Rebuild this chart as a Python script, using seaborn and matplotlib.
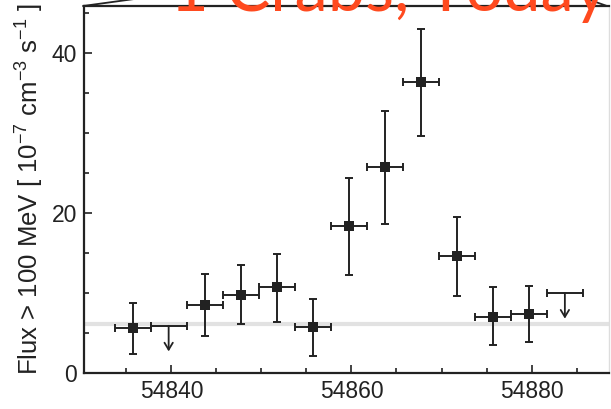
import matplotlib
matplotlib.use("Agg")
import matplotlib.pyplot as plt
from matplotlib.lines import Line2D
from matplotlib.ticker import MultipleLocator
import numpy as np
import pandas as pd
import seaborn as sns

# Light curve (MJD bin centres), flux > 100 MeV in units of 1e-7
mjd = [54835.7, 54843.7, 54847.7, 54851.7, 54855.7, 54859.7,
       54863.7, 54867.7, 54871.7, 54875.7, 54879.7]
flux = [5.6, 8.5, 9.8, 10.7, 5.7, 18.4, 25.8, 36.4, 14.6, 7.05, 7.4]
flux_lo = [2.4, 4.6, 6.1, 6.4, 2.1, 12.3, 18.6, 29.7, 9.6, 3.5, 3.9]
flux_hi = [8.7, 12.4, 13.5, 14.9, 9.25, 24.4, 32.8, 43.0, 19.5, 10.7, 10.9]
bin_half = 2.0

# Upper limits
ul_mjd = [54839.7, 54883.7]
ul_flux = [5.9, 10.0]

# Reference flux level
ref_level = 6.1

x_ticks = [54840, 54860, 54880]
y_ticks = [0, 20, 40]

df = pd.DataFrame({"mjd": mjd, "flux": flux})

sns.set_style("ticks")
plt.rcParams["font.family"] = ["Liberation Sans", "DejaVu Sans"]
plt.rcParams["mathtext.fontset"] = "custom"
plt.rcParams["mathtext.rm"] = "Liberation Sans"
plt.rcParams["mathtext.it"] = "Liberation Sans"

W, H = 611, 409
fig = plt.figure(figsize=(W / 100, H / 100), dpi=100)
ax = fig.add_axes([84 / W, (H - 373) / H, (609 - 84) / W, (373 - 6) / H])

ink = "#222222"

ax.axhline(ref_level, color="#e2e2e2", lw=3.0, zorder=1)

yerr = np.array([np.array(flux) - np.array(flux_lo), np.array(flux_hi) - np.array(flux)])
ax.errorbar(mjd, flux, yerr=yerr, xerr=bin_half, fmt="none", ecolor=ink,
            elinewidth=1.4, capsize=3, capthick=1.4, zorder=3)
sns.scatterplot(data=df, x="mjd", y="flux", marker="s", s=50, color=ink,
                edgecolor=ink, linewidth=0, ax=ax, zorder=4)

# Upper limits: horizontal bin bar with a downward arrow
ax.errorbar(ul_mjd, ul_flux, xerr=bin_half, fmt="none", ecolor=ink,
            elinewidth=1.4, capsize=3, capthick=1.4, zorder=3)
for xu, yu in zip(ul_mjd, ul_flux):
    ax.annotate("", xy=(xu, yu - 3.2), xytext=(xu, yu),
                arrowprops=dict(arrowstyle="->,head_length=0.5,head_width=0.3",
                                color=ink, lw=1.3, shrinkA=0, shrinkB=0))

ax.set_xlim(54830.3, 54888.6)
ax.set_ylim(0, 45.9)
ax.set_xticks(x_ticks)
ax.set_yticks(y_ticks)
ax.xaxis.set_minor_locator(MultipleLocator(5))
ax.yaxis.set_minor_locator(MultipleLocator(5))
ax.tick_params(which="both", direction="in", colors=ink, labelsize=16.5,
               top=False, right=False)
ax.tick_params(which="major", length=6, width=1.2, pad=5)
ax.tick_params(which="minor", length=3.5, width=1.2)
ax.set_xlabel("")
ax.set_ylabel(r"Flux > 100 MeV [ 10$^{-7}$ cm$^{-3}$ s$^{-1}$ ]",
              fontsize=18.5, color=ink, labelpad=4)

for side in ["left", "bottom", "top"]:
    ax.spines[side].set_color(ink)
    ax.spines[side].set_linewidth(1.6)
ax.spines["right"].set_color("#dddddd")
ax.spines["right"].set_linewidth(1.0)

# Callout outline rising from the top corners of the panel
fig.add_artist(Line2D([83 / W, 215 / W], [(H - 6) / H, (H + 12) / H],
                      transform=fig.transFigure, color=ink, lw=1.3))
fig.add_artist(Line2D([573 / W, 607 / W], [(H + 6) / H, (H - 6) / H],
                      transform=fig.transFigure, color=ink, lw=1.3))

fig.text(170 / W, (H - 11) / H, "1 Crabs, Today", color="#ff4a1f",
         fontsize=48, family=["Lato", "DejaVu Sans"], va="baseline", ha="left")

fig.savefig("out.png", dpi=100)
